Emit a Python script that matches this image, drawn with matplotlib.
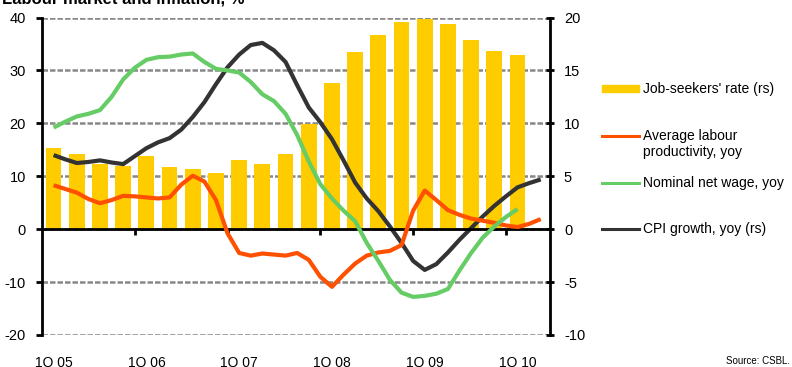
import matplotlib
matplotlib.use('Agg')
import matplotlib.pyplot as plt
import numpy as np
from matplotlib.lines import Line2D
from matplotlib.patches import Rectangle

plt.rcParams['font.family'] = ['Liberation Sans', 'DejaVu Sans']
plt.rcParams['axes.unicode_minus'] = False

# quarters 1Q 05 .. 1Q 10
tick_pos = [0, 4, 8, 12, 16, 20]
tick_labels = ['1Q 05', '1Q 06', '1Q 07', '1Q 08', '1Q 09', '1Q 10']

# job-seekers' rate, % (right scale), one bar per quarter
job_seekers = [7.7, 7.1, 6.2, 6.0, 6.9, 5.9, 5.7, 5.3, 6.5, 6.2, 7.1,
               9.9, 13.8, 16.7, 18.3, 19.6, 19.9, 19.4, 17.9, 16.8, 16.5]

# line series sampled every half quarter
productivity = [8.3, 7.6, 6.9, 5.7, 4.9, 5.5, 6.3, 6.2, 6.0, 5.8, 6.0,
                8.4, 10.1, 9.0, 5.5, -0.8, -4.5, -5.0, -4.6, -4.8, -5.0,
                -4.5, -5.8, -9.0, -10.9, -8.6, -6.5, -5.0, -4.4, -4.1, -3.0,
                3.5, 7.3, 5.5, 3.6, 2.7, 2.0, 1.6, 1.2, 0.7, 0.4, 1.0, 1.9]
net_wage = [19.2, 20.3, 21.3, 21.8, 22.5, 25.0, 28.3, 30.5, 32.0, 32.5, 32.6,
            33.0, 33.2, 31.6, 30.3, 30.0, 29.6, 27.8, 25.5, 24.2, 21.8,
            17.8, 12.8, 8.5, 5.8, 3.5, 1.5, -2.6, -6.0, -9.6, -12.0,
            -12.8, -12.6, -12.2, -11.3, -7.8, -4.5, -1.6, 0.5, 2.3, 3.8]
cpi = [7.0, 6.6, 6.25, 6.35, 6.5, 6.3, 6.15, 6.9, 7.65, 8.2, 8.6,
       9.4, 10.6, 12.0, 13.7, 15.3, 16.5, 17.4, 17.6, 16.9, 15.8,
       13.6, 11.5, 10.1, 8.5, 6.5, 4.4, 2.9, 1.7, 0.25, -1.3,
       -3.0, -3.85, -3.3, -2.2, -1.0, 0.1, 1.2, 2.2, 3.1, 3.95, 4.35, 4.7]

YELLOW = '#FFCC00'
ORANGE = '#FF5000'
GREEN = '#66CC66'
DARK = '#333333'
GRID = '#888888'

W, H = 792, 367
fig = plt.figure(figsize=(W / 100, H / 100), dpi=100)
ax = fig.add_axes([42 / W, 1 - 335 / H, (550 - 42) / W, (335 - 17.5) / H])
ax2 = ax.twinx()
ax.set_zorder(ax2.get_zorder() + 1)
ax.patch.set_visible(False)

bar_x = np.arange(len(job_seekers))
ax2.bar(bar_x, job_seekers, width=0.68, color=YELLOW, zorder=2)

x_prod = np.arange(len(productivity)) * 0.5
x_wage = np.arange(len(net_wage)) * 0.5
x_cpi = np.arange(len(cpi)) * 0.5
ax2.plot(x_cpi, cpi, color=DARK, lw=3, solid_capstyle='butt',
         solid_joinstyle='round', zorder=3)
ax.plot(x_prod, productivity, color=ORANGE, lw=3, solid_capstyle='butt',
        solid_joinstyle='round', zorder=3)
ax.plot(x_wage, net_wage, color=GREEN, lw=3, solid_capstyle='butt',
        solid_joinstyle='round', zorder=3)

ax.set_xlim(-0.5, 21.4)
ax.set_ylim(-20, 40)
ax2.set_ylim(-10, 20)
ax.set_yticks(range(-20, 41, 10))
ax2.set_yticks(range(-10, 21, 5))

# dashed grid behind the bars
ax2.set_axisbelow(True)
ax2.grid(axis='y', color=GRID, lw=1.8, linestyle=(0, (2.2, 0.8)))
ax2.grid(axis='x', visible=False)

for a in (ax, ax2):
    a.spines['top'].set_visible(False)
    a.spines['bottom'].set_visible(False)
ax.spines['right'].set_visible(False)
ax2.spines['left'].set_visible(False)
ax.spines['left'].set_linewidth(2)
ax2.spines['right'].set_linewidth(2)

ax.tick_params(axis='y', direction='out', length=4.5, width=2, pad=7, labelsize=10.5)
ax2.tick_params(axis='y', direction='inout', length=6, width=2, pad=7, labelsize=10.5)

ax.set_xticks(tick_pos)
ax.set_xticklabels(tick_labels)
ax.tick_params(axis='x', length=0, pad=15, labelsize=10)

# zero line with year separators
zero_axis = ax.secondary_xaxis(1 / 3)
zero_axis.spines['bottom'].set_linewidth(2)
zero_axis.set_xticks([3.5, 7.5, 11.5, 15.5, 19.5])
zero_axis.set_xticklabels([])
zero_axis.tick_params(axis='x', direction='out', length=4, width=2)

# legend on the right
def px(x, y):
    return x / W, 1 - y / H

fig.add_artist(Rectangle(px(602, 92), 37 / W, 7 / H, color=YELLOW,
                         transform=fig.transFigure))
for y, c in [(136, ORANGE), (183, GREEN), (229, DARK)]:
    fig.add_artist(Line2D([602 / W, 639 / W], [1 - y / H] * 2, color=c, lw=2.2,
                          transform=fig.transFigure))
legend_items = [(88.5, "Job-seekers' rate (rs)"),
                (144, 'Average labour\nproductivity, yoy'),
                (183, 'Nominal net wage, yoy'),
                (229, 'CPI growth, yoy (rs)')]
for y, label in legend_items:
    fig.text(*px(643, y), label, fontsize=10, va='center', ha='left',
             linespacing=1.15)

fig.text(*px(2, 4), 'Labour market and inflation, %', fontsize=12,
         fontweight='bold', va='baseline', ha='left')
fig.text(*px(790, 361), 'Source: CSBL.', fontsize=7, va='center', ha='right')

fig.savefig('out.png', dpi=100)
